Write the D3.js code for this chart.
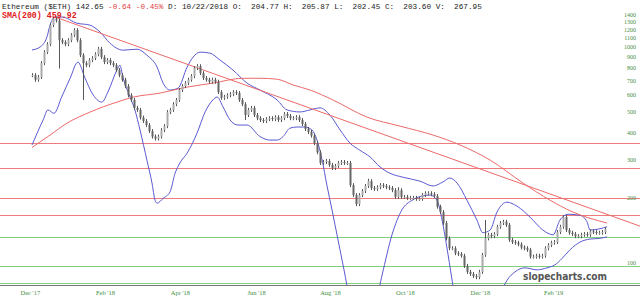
<!DOCTYPE html>
<html>
<head>
<meta charset="utf-8">
<script src="https://cdn.jsdelivr.net/npm/d3@7/dist/d3.min.js"></script>
<style>
  body { margin: 0; background: #fff; }
  svg { display: block; }
</style>
</head>
<body>
<div id="chart"></div>
<script>
// daily closes, one every ~2 trading days
var closes = [
  738,703,724,839,943,1026,1257,1347,1320,1071,
  1048,1026,1071,1130,1192,1071,913,839,821,866,
  885,922,977,894,848,866,839,821,779,738,
  703,657,596,567,521,510,470,453,434,407,
  384,376,384,411,429,498,510,542,567,630,
  657,678,703,730,796,812,754,716,703,688,
  703,688,616,580,586,596,603,616,610,567,
  542,483,510,521,483,467,458,453,462,467,
  462,472,458,467,488,478,467,467,472,458,
  439,416,403,388,358,325,290,293,296,284,
  275,281,290,293,290,290,229,206,187,206,
  215,227,239,222,220,224,229,227,224,222,
  217,202,217,202,202,200,200,200,198,198,
  206,210,210,208,204,182,172,153,130,117,
  117,111,110,108,97,91,89,87,86,91,
  109,130,135,133,136,147,153,155,150,128,
  125,124,122,118,117,115,107,107,108,107,
  108,117,121,124,125,139,147,163,142,138,
  136,133,133,135,136,135,140,139,138,138,
  139,143
];

// long wicks [bar, price]
var spikes = [[9, 792], [17, 567], [71, 458], [112, 245], [122, 224], [151, 158]];

// SMA(200) [bar, price]
var sma = [
  [0,342],[6,390],[11.7,443],[19.3,498],[28.3,554],[33.7,584],[42.7,610],[51.7,650],
  [60.3,678],[70.3,714],[76,714],[81.7,707],[87,665],[92.7,630],[100.3,567],[111.7,472],
  [122.7,429],[133.7,390],[142.7,351],[152.7,299],[163.7,234],[172.7,195],[180.3,172],[191.7,153]
];

// bollinger bands [bar, price]
var upperBand = [
  [0,965],[2.7,996],[5,1110],[6,1257],[7.7,1370],[10,1370],[15,1283],[19.3,1257],[22.7,1167],
  [26,1037],[30.3,963],[35,973],[38.3,913],[41.7,804],[43.7,678],[46,630],[48.7,643],[51.7,804],
  [53.7,894],[56,943],[59.3,933],[62.7,866],[67,779],[71.7,678],[76,630],[81.7,567],[85,510],
  [89.3,499],[92.7,510],[96,521],[99.3,483],[102.7,412],[106,358],[109.3,332],[112.7,309],
  [116,278],[119.3,260],[123.7,249],[129.3,239],[133.7,227],[137,237],[139.3,247],[141.7,234],
  [145,195],[148.3,158],[150.3,138],[152.7,142],[155,172],[158.3,191],[161.7,183],[166,163],
  [170.3,142],[173.7,135],[176,158],[178.7,168],[182.7,166],[185,155],[186,142],[189.3,144],[191.7,147]
];
var lowerBand = [
  [0,351],[1.7,398],[3.7,458],[5.3,510],[7.3,492],[10,590],[12.7,714],[15.3,848],[17.7,714],
  [20,610],[23.3,554],[25.3,617],[28.3,779],[29.3,821],[30.3,722],[32.7,584],[34.3,510],[36,412],
  [38.3,299],[40,234],[41,195],[41.7,189],[43.7,199],[46,213],[47.7,260],[49.3,290],[51.7,322],
  [55,398],[57.7,499],[60.3,567],[61.7,585],[63.7,526],[66,458],[68.7,434],[71.7,434],[76,384],
  [79.3,370],[81.7,370],[83.7,384],[86,420],[88.3,425],[91,425],[93.3,412],[95,370],[96.7,299],
  [98.3,229],[100,176],[102,128],[104,93],[106,67],[109.3,49],[113.3,55],[116.7,88],[120,135],
  [123.3,176],[126.7,195],[130,204],[132.7,206],[135,195],[137,150],[138.7,109],[140.3,79],
  [142.7,55],[146,42],[150,42],[153.3,52],[156,71],[158.3,83],[161,91],[164.3,95],[168.3,93],
  [171.7,95],[174.3,98],[176.7,105],[179.3,115],[182.7,125],[186,129],[189.3,130],[191.7,132]
];

// down trend line [bar, price]
var trend = [[7.7,1370],[202.7,148]];

var redLevels = [358, 275, 200, 166];
var greenLevels = [132, 97, 81];

var yTicks = [100,200,300,400,500,600,700,800,900,1000,1100,1200,1300,1400];
var xTickBars = [-0.7, 24.3, 49.3, 74.7, 99.3, 124.3, 149.3, 173.7];
var xTickLabels = ["Dec '17","Feb '18","Apr '18","Jun '18","Aug '18","Oct '18","Dec '18","Feb '19"];

var width = 640, height = 304;

var svg = d3.select('#chart').append('svg').attr('width', width).attr('height', height);

var x = d3.scaleLinear().domain([0, closes.length - 1]).range([32, 605]);
var y = d3.scaleLog().domain([100, 1400]).range([263, 15]);

svg.append('clipPath').attr('id', 'plot')
  .append('rect').attr('x', 0).attr('y', 0).attr('width', width).attr('height', 286);

var plot = svg.append('g').attr('clip-path', 'url(#plot)');

// horizontal levels
plot.selectAll('line.red').data(redLevels).enter().append('line')
  .attr('class', 'red')
  .attr('x1', 0).attr('x2', width)
  .attr('y1', function(d) { return Math.round(y(d)) + 0.5; })
  .attr('y2', function(d) { return Math.round(y(d)) + 0.5; })
  .attr('stroke', '#ee7b7b').attr('stroke-width', 1);

plot.selectAll('line.green').data(greenLevels).enter().append('line')
  .attr('class', 'green')
  .attr('x1', 0).attr('x2', width)
  .attr('y1', function(d) { return Math.round(y(d)) + 0.5; })
  .attr('y2', function(d) { return Math.round(y(d)) + 0.5; })
  .attr('stroke', '#7fce7f').attr('stroke-width', 1);

var line = d3.line()
  .x(function(d) { return x(d[0]); })
  .y(function(d) { return y(d[1]); })
  .curve(d3.curveMonotoneX);

plot.append('path').datum(upperBand).attr('d', line)
  .attr('fill', 'none').attr('stroke', '#5a5ad2').attr('stroke-width', 1);
plot.append('path').datum(lowerBand).attr('d', line)
  .attr('fill', 'none').attr('stroke', '#5a5ad2').attr('stroke-width', 1);

plot.append('path').datum(sma).attr('d', line)
  .attr('fill', 'none').attr('stroke', '#ec6a6a').attr('stroke-width', 1);

plot.append('path').datum(trend).attr('d', d3.line()
    .x(function(d) { return x(d[0]); })
    .y(function(d) { return y(d[1]); }))
  .attr('fill', 'none').attr('stroke', '#ec6a6a').attr('stroke-width', 1);

// candles: open = previous close
var candles = closes.map(function(c, i) {
  return { i: i, open: i > 0 ? closes[i - 1] : c, close: c };
});

plot.selectAll('line.wick').data(spikes).enter().append('line')
  .attr('class', 'wick')
  .attr('x1', function(d) { return Math.round(x(d[0])) + 0.5; })
  .attr('x2', function(d) { return Math.round(x(d[0])) + 0.5; })
  .attr('y1', function(d) { return y(closes[d[0]]); })
  .attr('y2', function(d) { return y(d[1]); })
  .attr('stroke', '#555').attr('stroke-width', 1);

// thin wick through each candle
plot.selectAll('line.cw').data(candles).enter().append('line')
  .attr('class', 'cw')
  .attr('x1', function(d) { return Math.round(x(d.i)) + 0.5; })
  .attr('x2', function(d) { return Math.round(x(d.i)) + 0.5; })
  .attr('y1', function(d) { return y(Math.max(d.open, d.close)) - 2; })
  .attr('y2', function(d) { return y(Math.min(d.open, d.close)) + 2; })
  .attr('stroke', '#555').attr('stroke-width', 1);

plot.selectAll('rect.candle').data(candles).enter().append('rect')
  .attr('class', 'candle')
  .attr('x', function(d) { return Math.round(x(d.i)) - 0.5; })
  .attr('width', 2)
  .attr('y', function(d) { return y(Math.max(d.open, d.close)); })
  .attr('height', function(d) { return Math.max(1, Math.abs(y(d.open) - y(d.close))); })
  .attr('fill', function(d) { return d.close >= d.open ? '#aaa' : '#666'; });

// bottom frame line
svg.append('line').attr('x1', 0).attr('x2', width).attr('y1', 285.5).attr('y2', 285.5)
  .attr('stroke', '#777').attr('stroke-width', 1);

// axes
var xAxis = d3.axisBottom(x)
  .tickValues(xTickBars)
  .tickFormat(function(d, i) { return xTickLabels[i]; })
  .tickSize(0).tickPadding(0);

var gx = svg.append('g').attr('transform', 'translate(0,290)').call(xAxis);
gx.select('.domain').remove();
gx.selectAll('text').attr('fill', '#3f8f3f')
  .style('font-family', 'Liberation Serif, serif').style('font-size', '6.5px');

var yAxis = d3.axisLeft(y)
  .tickValues(yTicks)
  .tickFormat(d3.format('d'))
  .tickSize(0).tickPadding(0);

var gy = svg.append('g').attr('transform', 'translate(636,0)').call(yAxis);
gy.select('.domain').remove();
gy.selectAll('text').attr('fill', '#3f8f3f')
  .style('font-family', 'Liberation Serif, serif').style('font-size', '6px');

// watermark
svg.append('text')
  .attr('x', 523).attr('y', 280)
  .attr('textLength', 84).attr('lengthAdjust', 'spacingAndGlyphs')
  .style('font-family', 'DejaVu Sans, sans-serif').style('font-weight', 'bold')
  .style('font-size', '11px').attr('fill', '#555')
  .text('slopecharts.com');

// header
var head = svg.append('text')
  .attr('x', 2).attr('y', 9)
  .style('font-family', 'Liberation Mono, Courier New, monospace')
  .style('font-size', '7.7px')
  .style('white-space', 'pre')
  .attr('fill', '#222');
head.append('tspan').text('Ethereum ($ETH) 142.65 ');
head.append('tspan').attr('fill', '#e04040').text('-0.64 -0.45%');
head.append('tspan').text(' D: 10/22/2018 O:  204.77 H:  205.87 L:  202.45 C:  203.60 V:  267.95');

svg.append('text')
  .attr('x', 2).attr('y', 18)
  .style('font-family', 'Liberation Mono, Courier New, monospace')
  .style('font-size', '8.3px').style('font-weight', 'bold')
  .style('white-space', 'pre')
  .attr('fill', '#e02020')
  .text('SMA(200) 459.92');
</script>
</body>
</html>
